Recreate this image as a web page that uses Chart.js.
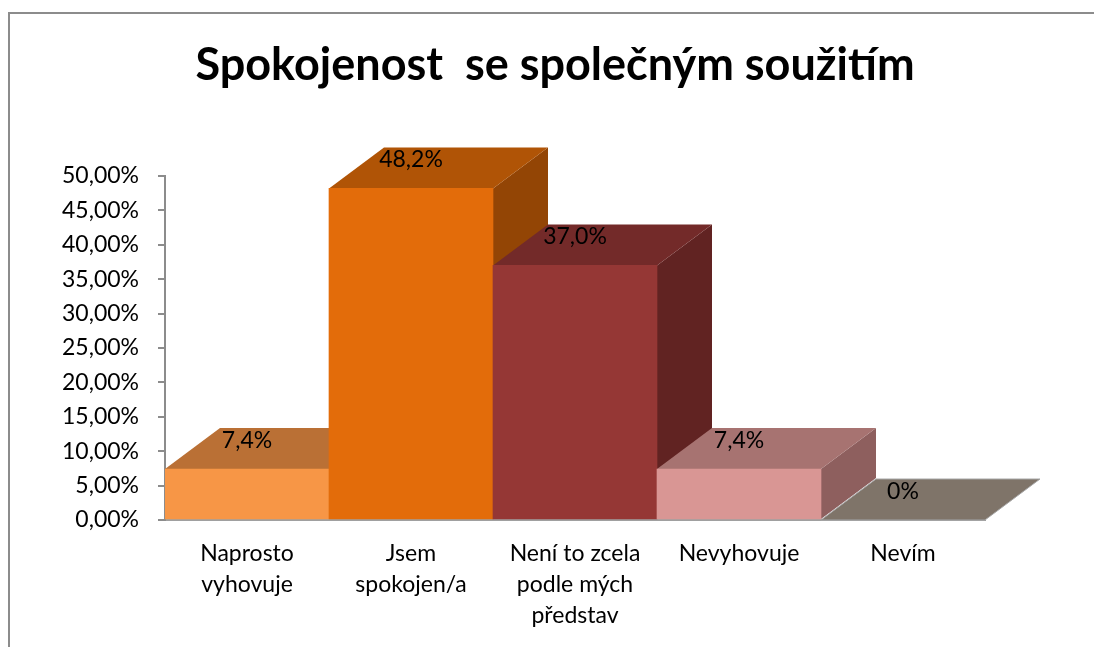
<!DOCTYPE html>
<html>
<head>
<meta charset="utf-8">
<script src="https://cdn.jsdelivr.net/npm/chart.js@4.4.1/dist/chart.umd.min.js"></script>
<style>
  html, body { margin: 0; padding: 0; background: #fff; overflow: hidden; }
  #frame {
    position: absolute; left: 8px; top: 12px;
    width: 2000px; height: 2000px;
    border: 2px solid #8c8c8c;
  }
  #wrap { position: absolute; left: 0; top: 0; width: 1094px; height: 647px; }
</style>
</head>
<body>
<div id="frame"></div>
<div id="wrap"><canvas id="chart" width="1094" height="647"></canvas></div>
<script>
// === Data ===
const categories = [
  ["Naprosto", "vyhovuje"],
  ["Jsem", "spokojen/a"],
  ["Není to zcela", "podle mých", "představ"],
  ["Nevyhovuje"],
  ["Nevím"],
];
const values = [7.4, 48.2, 37.0, 7.4, 0];
const yTicks = [0, 5, 10, 15, 20, 25, 30, 35, 40, 45, 50];

// === Colours (front / top / side faces) ===
const frontColors = ["#F79646", "#E36C0A", "#953735", "#D99694", "#8C8C8C"];
const topColors = ["#BA7035", "#B05406", "#732A29", "#A77371", "#7F7469"];
const sideColors = ["#9C5A2A", "#934505", "#612322", "#8E5F5E", "#6E655C"];

const FONT = "Lato";
const depthX = 55;
const depthY = 41;

function fillPoly(ctx, pts, color, stroke) {
  ctx.beginPath();
  ctx.moveTo(pts[0][0], pts[0][1]);
  for (let i = 1; i < pts.length; i++) ctx.lineTo(pts[i][0], pts[i][1]);
  ctx.closePath();
  ctx.fillStyle = color;
  ctx.fill();
  if (stroke) {
    ctx.strokeStyle = stroke;
    ctx.lineWidth = 1;
    ctx.stroke();
  }
}

function fmtLabel(v) {
  return v === 0 ? "0%" : v.toFixed(1).replace(".", ",") + "%";
}

// === 3D faces drawn behind the library's front faces, left to right ===
const bar3d = {
  id: "bar3d",
  afterLayout(chart) {
    // centre the title over the whole frame rather than the padded box
    if (chart.titleBlock) chart.titleBlock.left = 125;
  },
  beforeDatasetsDraw(chart) {
    const ctx = chart.ctx;
    const meta = chart.getDatasetMeta(0);
    ctx.save();
    meta.data.forEach((bar, i) => {
      const l = bar.x - bar.width / 2;
      const r = bar.x + bar.width / 2;
      const t = bar.y;
      const b = bar.base;
      fillPoly(ctx, [[r, t], [r + depthX, t - depthY], [r + depthX, b - depthY], [r, b]], sideColors[i]);
      fillPoly(ctx, [[l, t], [r, t], [r + depthX, t - depthY], [l + depthX, t - depthY]], topColors[i],
        values[i] === 0 ? "#a6a6a6" : null);
    });
    ctx.restore();
  },
  afterDatasetsDraw(chart) {
    const ctx = chart.ctx;
    const meta = chart.getDatasetMeta(0);
    ctx.save();
    ctx.font = "23px " + FONT;
    ctx.fillStyle = "#000";
    ctx.textAlign = "center";
    ctx.textBaseline = "middle";
    meta.data.forEach((bar, i) => {
      ctx.fillText(fmtLabel(values[i]), bar.x, bar.y - 28.5);
    });
    ctx.restore();
  },
};

new Chart(document.getElementById("chart"), {
  type: "bar",
  data: {
    labels: categories,
    datasets: [
      {
        data: values,
        backgroundColor: frontColors,
        borderWidth: 0,
        categoryPercentage: 1,
        barPercentage: 1,
      },
    ],
  },
  options: {
    responsive: false,
    animation: false,
    devicePixelRatio: 1,
    layout: { padding: { left: 0, right: 109, top: 0, bottom: 0 } },
    plugins: {
      legend: { display: false },
      tooltip: { enabled: false },
      title: {
        display: true,
        text: "Spokojenost  se společným soužitím",
        color: "#000",
        font: { family: FONT, size: 45, weight: "bold", lineHeight: 1.2 },
        padding: { top: 38, bottom: 84 },
      },
    },
    scales: {
      x: {
        grid: { display: false, drawTicks: false },
        border: { display: true, color: "#a0a0a0", width: 2 },
        ticks: {
          color: "#000",
          font: { family: FONT, size: 23, lineHeight: 1.35 },
          padding: 18,
          maxRotation: 0,
          autoSkip: false,
        },
        afterFit: (s) => { s.height = 127; },
      },
      y: {
        min: 0,
        max: 50,
        afterBuildTicks: (s) => { s.ticks = yTicks.map((v) => ({ value: v })); },
        grid: {
          drawOnChartArea: false,
          drawTicks: true,
          tickLength: 7,
          color: "#8c8c8c",
          lineWidth: 2,
        },
        border: { display: true, color: "#8c8c8c", width: 2 },
        ticks: {
          color: "#000",
          font: { family: FONT, size: 23 },
          padding: 19,
          callback: (v) => v.toFixed(2).replace(".", ",") + "%",
        },
        afterFit: (s) => { s.width = 165; },
      },
    },
  },
  plugins: [bar3d],
});
</script>
</body>
</html>
